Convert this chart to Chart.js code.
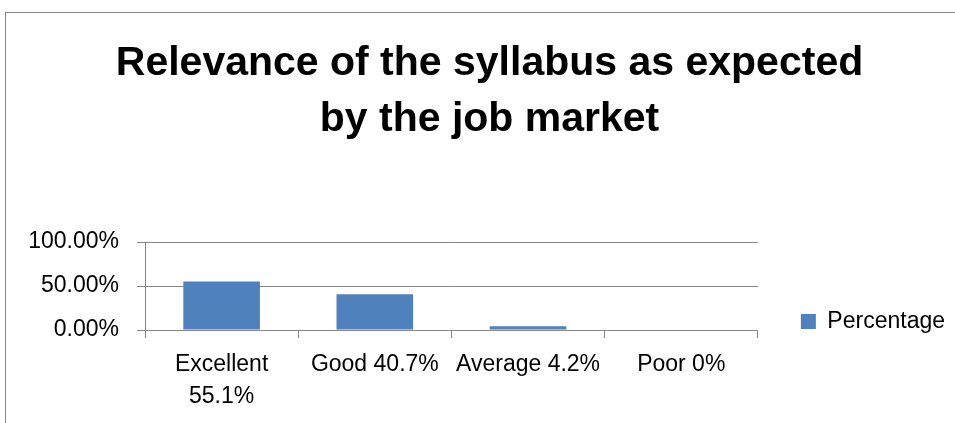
<!DOCTYPE html>
<html>
<head>
<meta charset="utf-8">
<script src="https://cdn.jsdelivr.net/npm/chart.js@4"></script>
<style>
  html, body { margin: 0; padding: 0; background: #fff; overflow: hidden; }
  #frame {
    position: absolute; left: 5px; top: 12px; width: 1200px; height: 600px;
    border-left: 1px solid #868686; border-top: 1px solid #868686;
  }
  #chart { position: absolute; left: 0; top: 0; }
</style>
</head>
<body>
<div id="frame"></div>
<canvas id="chart" width="955" height="423"></canvas>
<script>
const titleLines = ["Relevance of the syllabus as expected", "by the job market"];
const categories = [["Excellent", "55.1%"], "Good 40.7%", "Average 4.2%", "Poor 0%"];
const seriesName = "Percentage";
const percentages = [55.1, 40.7, 4.2, 0];
const yTicks = [0, 50, 100];

const font = "'Liberation Sans', Arial, sans-serif";
const gray = "#868686";

const ctx = document.getElementById("chart").getContext("2d");

new Chart(ctx, {
  type: "bar",
  data: {
    labels: categories,
    datasets: [
      {
        label: seriesName,
        data: percentages,
        backgroundColor: "#4F81BD",
        borderWidth: 0,
        categoryPercentage: 1,
        barPercentage: 0.5,
      },
    ],
  },
  options: {
    responsive: false,
    animation: false,
    devicePixelRatio: 1,
    layout: { padding: { left: 24, right: 0, top: 0, bottom: 0 } },
    plugins: {
      title: {
        display: true,
        text: titleLines,
        color: "#000",
        font: { family: font, size: 41, weight: "bold", lineHeight: 56 / 41 },
        padding: { top: 36, bottom: 94 },
      },
      legend: {
        position: "right",
        align: "start",
        maxWidth: 198,
        title: { display: true, text: "", padding: { top: 252.6, bottom: 0 } },
        labels: {
          color: "#000",
          font: { family: font, size: 23 },
          boxWidth: 15,
          boxHeight: 15,
          padding: 43,
        },
      },
      tooltip: { enabled: false },
    },
    scales: {
      x: {
        grid: {
          offset: true,
          drawOnChartArea: false,
          drawTicks: true,
          tickLength: 8,
          color: gray,
        },
        border: { display: true, color: gray },
        ticks: {
          color: "#000",
          font: { family: font, size: 23, lineHeight: 32 / 23 },
          padding: 11,
          maxRotation: 0,
          autoSkip: false,
        },
        afterFit: (scale) => { scale.height = 93; },
      },
      y: {
        min: 0,
        max: 100,
        afterBuildTicks: (scale) => {
          scale.ticks = yTicks.map((v) => ({ value: v }));
        },
        grid: { color: gray, tickLength: 8, drawTicks: true },
        border: { display: true, color: gray },
        ticks: {
          color: "#000",
          font: { family: font, size: 23 },
          padding: 18,
          callback: (v) => v.toFixed(2) + "%",
        },
        afterFit: (scale) => { scale.width = 121; },
      },
    },
  },
});
</script>
</body>
</html>
